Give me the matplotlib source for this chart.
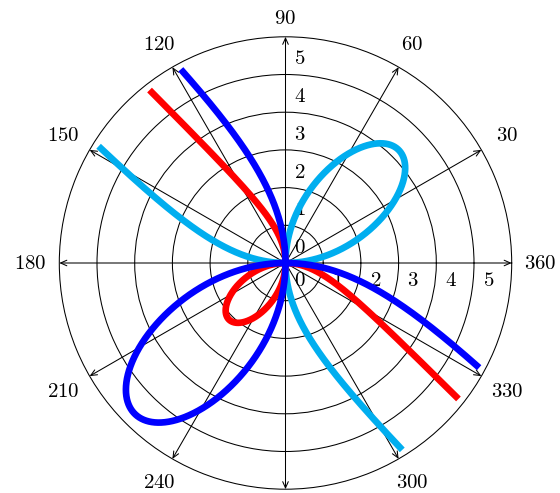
import numpy as np
import matplotlib.pyplot as plt

plt.rcParams['mathtext.fontset'] = 'cm'

# folium of Descartes  r = b*sin*cos/(sin^3+cos^3), b
curve_colors = ['#00AEEF', 'red', 'blue']
curve_coeffs = [6.0, -3.0, -8.0]
r_cut = 5.85

angle_ticks = [30, 60, 90, 120, 150, 180, 210, 240, 300, 330, 360]
arrow_angles = [0, 30, 60, 90, 120, 150, 180, 210, 240, 270, 300, 330]
radius_labels = [0, 1, 2, 3, 4, 5]
circles = [1, 2, 3, 4, 5]
r_max = 6

W, H = 560, 493
cx, cy, R = 285.5, 263.0, 226.2   # centre and outer radius in pixels
unit = R / r_max

fig = plt.figure(figsize=(W / 100, H / 100), dpi=100)
ax = fig.add_axes([(cx - R) / W, (H - cy - R) / H, 2 * R / W, 2 * R / H],
                  projection='polar')
ax.set_rlim(0, r_max)
ax.set_xticks([])
ax.set_rticks(circles)
ax.set_yticklabels([])
ax.yaxis.grid(True, color='black', lw=0.75)
ax.spines['polar'].set_linewidth(0.75)
ax.spines['polar'].set_color('black')

# radial axes with arrow heads
for a in arrow_angles:
    ax.annotate('', xy=(np.radians(a), r_max), xytext=(0, 0),
                arrowprops=dict(arrowstyle='->,head_length=0.45,head_width=0.2',
                                lw=0.75, color='black', shrinkA=0, shrinkB=0),
                annotation_clip=False, zorder=2)

# angle labels
for a in angle_ticks:
    t = np.radians(a)
    rl = (239 + 16 * abs(np.cos(t)) + 6.5 * abs(np.sin(t))) / unit
    ax.text(t, rl, '$%d$' % a, ha='center', va='center', fontsize=15,
            clip_on=False)

# radius labels along 0 and 90 degrees
for k in radius_labels:
    ax.annotate('$%d$' % k, xy=(0, k), xytext=(14.5, -17),
                textcoords='offset pixels', ha='center', va='center',
                fontsize=15, zorder=2)
    ax.annotate('$%d$' % k, xy=(np.pi / 2, k), xytext=(14.5, 16),
                textcoords='offset pixels', ha='center', va='center',
                fontsize=15, zorder=2)

th = np.radians(np.linspace(-44.95, 134.95, 6000))
for i, (b, col) in enumerate(zip(curve_coeffs, curve_colors)):
    s, c = np.sin(th), np.cos(th)
    r = b * s * c / (s ** 3 + c ** 3)
    keep = np.abs(r) <= r_cut
    tt = np.where(r < 0, th + np.pi, th)[keep]
    rr = np.abs(r)[keep]
    ax.plot(tt, rr, color=col, lw=4.8, solid_capstyle='butt',
            zorder=5 + i, clip_on=False)

fig.savefig('out.png', dpi=100)
